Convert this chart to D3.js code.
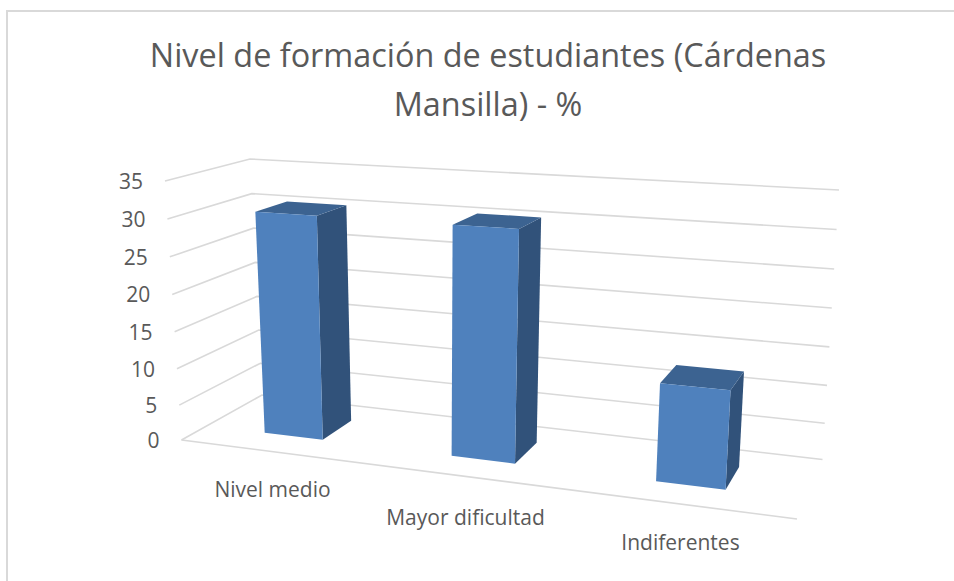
<!DOCTYPE html>
<html><head><meta charset="utf-8">
<script src="https://cdn.jsdelivr.net/npm/d3@7"></script>
<style>html,body{margin:0;padding:0;background:#fff}svg{display:block}text{font-family:"Open Sans",sans-serif;fill:#595959}</style>
</head><body><svg id="c" width="954" height="581"></svg>
<script>
const categories = ["Nivel medio","Mayor dificultad","Indiferentes"];
const values = [30.4,30.4,12.6];
const valueTicks = [0,5,10,15,20,25,30,35];
const titleLines = ["Nivel de formación de estudiantes (Cárdenas","Mansilla) - %"];

const svg = d3.select("#c");
// frame
svg.append("path").attr("d","M7,581V11H954").attr("fill","none").attr("stroke","#d9d9d9").attr("stroke-width",2);

// projected box corners: floor and ceiling quadrilaterals [u,d]
const floorQ = {fl:[181.5,440],fr:[797,519],br:[822.5,459.5],bl:[262,395]};
const ceilQ  = {fl:[165,181],fr:[814,218.5],br:[839,190],bl:[250,159]};
function homography(q){ // unit square -> quad: (0,0)=fl,(1,0)=fr,(1,1)=br,(0,1)=bl
  const [x0,y0]=q.fl,[x1,y1]=q.fr,[x2,y2]=q.br,[x3,y3]=q.bl;
  const dx1=x1-x2,dx2=x3-x2,dx3=x0-x1+x2-x3,dy1=y1-y2,dy2=y3-y2,dy3=y0-y1+y2-y3;
  const den=dx1*dy2-dx2*dy1;
  const g=(dx3*dy2-dx2*dy3)/den,h=(dx1*dy3-dx3*dy1)/den;
  const a=x1-x0+g*x1,b=x3-x0+h*x3,d=y1-y0+g*y1,e=y3-y0+h*y3;
  return (u,v)=>{const w=g*u+h*v+1;return [(a*u+b*v+x0)/w,(d*u+e*v+y0)/w];};
}
const hFloor=homography(floorQ),hCeil=homography(ceilQ);
const yFrac=d3.scalePow().exponent(1.03).domain([0,35]).range([0,1]);
const project=(u,d,v)=>{
  const p=hFloor(u,d),q=hCeil(u,d),t=yFrac(v);
  return [d3.interpolateNumber(p[0],q[0])(t),d3.interpolateNumber(p[1],q[1])(t)];
};
const xBand=d3.scaleBand().domain(categories).range([-.005,.995]).paddingInner(.68).paddingOuter(.34);
const depth=d3.scaleBand().domain(["s"]).range([0,1]).paddingInner(.6).paddingOuter(.3);
const line=d3.line();

// gridlines
const grid=svg.append("g").attr("fill","none").attr("stroke","#d9d9d9").attr("stroke-width",1.6);
valueTicks.forEach(v=>{
  grid.append("path").attr("d",line([project(0,0,v),project(0,1,v),project(1,1,v)]));
});
grid.append("path").attr("d",line([project(0,0,0),project(1,0,0)]));

// value tick labels
svg.append("g").selectAll("text").data(valueTicks).join("text")
  .attr("x",v=>project(0,0,v)[0]-22).attr("y",v=>project(0,0,v)[1]+8)
  .attr("text-anchor","end").attr("font-size",21).text(d=>d);

// bars
const bars=svg.append("g");
categories.forEach((c,i)=>{
  const u0=xBand(c),u1=u0+xBand.bandwidth(),d0=depth("s"),d1=d0+depth.bandwidth(),v=values[i];
  const face=pts=>"M"+pts.map(p=>p.join(",")).join("L")+"Z";
  bars.append("path").attr("fill","#31527a").attr("d",face([project(u1,d0,0),project(u1,d1,0),project(u1,d1,v),project(u1,d0,v)]));
  bars.append("path").attr("fill","#3c6391").attr("d",face([project(u0,d0,v),project(u1,d0,v),project(u1,d1,v),project(u0,d1,v)]));
  bars.append("path").attr("fill","#4f81bd").attr("d",face([project(u0,d0,0),project(u1,d0,0),project(u1,d0,v),project(u0,d0,v)]));
});

// category labels
const catPos=[[272.5,497],[465.5,525],[680.5,550]];
svg.append("g").selectAll("text").data(categories).join("text")
  .attr("x",(d,i)=>catPos[i][0]).attr("y",(d,i)=>catPos[i][1])
  .attr("text-anchor","middle").attr("font-size",21).text(d=>d);

// title
svg.append("g").selectAll("text").data(titleLines).join("text")
  .attr("x",488).attr("y",(d,i)=>67+i*49).attr("text-anchor","middle").attr("font-size",32.4).text(d=>d);
</script></body></html>
